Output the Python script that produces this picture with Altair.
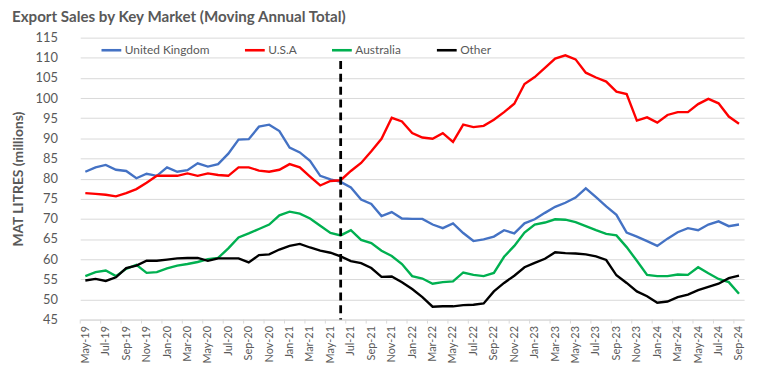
import altair as alt
import pandas as pd

# ---- data -------------------------------------------------------------
month_names = ["Jan", "Feb", "Mar", "Apr", "May", "Jun",
               "Jul", "Aug", "Sep", "Oct", "Nov", "Dec"]
months = []
for yr in range(2019, 2025):
    for mi, mn in enumerate(month_names):
        if (yr == 2019 and mi < 4) or (yr == 2024 and mi > 8):
            continue
        months.append(f"{mn}-{str(yr)[2:]}")

uk = [81.7, 82.8, 83.4, 82.2, 81.9, 80.1, 81.2, 80.7, 82.8, 81.7,
      82.1, 83.8, 83.0, 83.6, 86.2, 89.7, 89.8, 92.9, 93.4, 91.8,
      87.7, 86.5, 84.4, 80.7, 79.8, 79.2, 77.8, 74.8, 73.7, 70.7,
      71.7, 70.1, 70.0, 70.0, 68.6, 67.7, 68.9, 66.5, 64.5, 64.9,
      65.6, 67.2, 66.4, 68.9, 69.9, 71.5, 73.0, 74.0, 75.3, 77.6,
      75.4, 73.1, 71.0, 66.6, 65.6, 64.5, 63.3, 65.1, 66.7, 67.7,
      67.2, 68.6, 69.4, 68.2, 68.6]

usa = [76.4, 76.2, 76.0, 75.6, 76.4, 77.4, 79.0, 80.7, 80.7, 80.7,
       81.3, 80.7, 81.3, 80.9, 80.7, 82.8, 82.8, 82.0, 81.7, 82.2,
       83.6, 82.8, 80.5, 78.3, 79.4, 79.6, 81.9, 83.9, 86.8, 89.9,
       95.1, 94.2, 91.3, 90.2, 89.9, 91.3, 89.1, 93.4, 92.8, 93.1,
       94.6, 96.5, 98.6, 103.5, 105.2, 107.5, 109.8, 110.6, 109.6, 106.3,
       105.1, 104.1, 101.6, 101.0, 94.4, 95.2, 93.9, 95.8, 96.5, 96.5,
       98.5, 99.8, 98.7, 95.4, 93.6]

australia = [55.8, 56.8, 57.2, 55.8, 57.6, 58.6, 56.6, 56.8, 57.7, 58.4,
             58.8, 59.3, 60.0, 60.3, 62.7, 65.4, 66.4, 67.5, 68.6, 70.9,
             71.8, 71.3, 70.1, 68.3, 66.5, 65.9, 67.2, 64.8, 64.0, 62.1,
             60.8, 58.8, 55.8, 55.2, 53.9, 54.3, 54.5, 56.7, 56.1, 55.8,
             56.6, 60.6, 63.3, 66.6, 68.6, 69.1, 69.9, 69.8, 69.2, 68.2,
             67.2, 66.3, 65.9, 63.0, 59.6, 56.1, 55.8, 55.8, 56.2, 56.1,
             58.0, 56.5, 55.1, 54.3, 51.4]

other = [54.7, 55.1, 54.6, 55.5, 57.8, 58.4, 59.6, 59.6, 59.9, 60.2,
         60.3, 60.3, 59.6, 60.2, 60.2, 60.2, 59.2, 61.0, 61.2, 62.4,
         63.3, 63.8, 62.9, 62.1, 61.6, 60.7, 59.5, 59.0, 57.8, 55.6,
         55.7, 54.3, 52.6, 50.6, 48.2, 48.3, 48.3, 48.6, 48.7, 49.0,
         52.0, 54.1, 55.9, 58.0, 59.1, 60.1, 61.7, 61.5, 61.4, 61.2,
         60.7, 59.8, 56.0, 54.1, 52.0, 50.8, 49.2, 49.5, 50.6, 51.2,
         52.3, 53.1, 53.9, 55.3, 55.9]

series_names = ["United Kingdom", "U.S.A", "Australia", "Other"]
series_colors = ["#4472C4", "#FF0000", "#00B050", "#000000"]
series_values = [uk, usa, australia, other]

y_ticks = [45, 50, 55, 60, 65, 70, 75, 80, 85, 90, 95, 100, 105, 110, 115]
marker_month = "Jun-21"
marker_top = 109.2

# ---- tables -----------------------------------------------------------
rows = []
for name, vals in zip(series_names, series_values):
    for i, (m, v) in enumerate(zip(months, vals)):
        rows.append({"idx": i, "month": m, "series": name, "value": v})
df = pd.DataFrame(rows)

label_idx = list(range(0, len(months), 2))
tick_df = pd.DataFrame({"pos": [i - 0.5 for i in label_idx]})
marker_df = pd.DataFrame({"idx": [months.index(marker_month)],
                          "top": [marker_top], "bottom": [y_ticks[0]]})

W, H = 671, 285
FONT = "Lato"
GREY = "#595959"

x_scale = alt.Scale(domain=[-0.5, len(months) - 0.5], nice=False, zero=False)
y_scale = alt.Scale(domain=[y_ticks[0], y_ticks[-1]], nice=False, zero=False)

label_expr = "[" + ",".join(f"'{m}'" for m in months) + "][datum.value]"

x_axis = alt.Axis(values=label_idx, labelExpr=label_expr, labelAngle=270,
                  ticks=False, tickSize=0, grid=False, domainColor="#D9D9D9",
                  labelColor=GREY, labelFontSize=11, labelFont=FONT,
                  labelPadding=6, labelOverlap=False, labelFlush=False,
                  labelBound=False, title=None)
y_axis = alt.Axis(values=y_ticks, grid=True, gridColor="#D9D9D9",
                  domain=False, ticks=False, tickSize=0,
                  labelColor=GREY, labelFontSize=13, labelFont=FONT,
                  labelPadding=23, labelOverlap=False, labelFlush=False,
                  title="MAT LITRES (millions)",
                  titleFont=FONT, titleFontSize=14, titleFontWeight="bold",
                  titleColor=GREY, titleAngle=270, titleX=-62, titleY=H / 2,
                  titleBaseline="middle", titleAlign="center")

ticks = alt.Chart(tick_df).mark_rule(color="#D9D9D9", strokeWidth=1).encode(
    x=alt.X("pos:Q", scale=x_scale, axis=x_axis),
    y=alt.value(H),
    y2=alt.value(H + 4),
)

lines = alt.Chart(df).mark_line(strokeWidth=2.4).encode(
    x=alt.X("idx:Q", scale=x_scale, axis=x_axis),
    y=alt.Y("value:Q", scale=y_scale, axis=y_axis),
    color=alt.Color("series:N",
                    scale=alt.Scale(domain=series_names, range=series_colors),
                    legend=alt.Legend(orient="none", legendX=20, legendY=1,
                                      direction="horizontal", title=None,
                                      symbolType="stroke", symbolSize=400,
                                      symbolStrokeWidth=2.6,
                                      labelFont=FONT, labelFontSize=12,
                                      labelColor=GREY, labelOffset=2,
                                      columnPadding=30)),
)

dashed = alt.Chart(marker_df).mark_rule(color="black", strokeWidth=2.8,
                                         strokeDash=[8, 5]).encode(
    x=alt.X("idx:Q", scale=x_scale, axis=x_axis),
    y=alt.Y("top:Q", scale=y_scale, axis=y_axis),
    y2="bottom:Q",
)

chart = alt.layer(ticks, lines, dashed).properties(
    width=W, height=H,
    title=alt.TitleParams("Export Sales by Key Market (Moving Annual Total)",
                          anchor="start", frame="bounds", dx=0, offset=6,
                          font=FONT, fontSize=15.3, fontWeight="bold",
                          color=GREY),
    padding={"left": 73, "top": 28, "right": 9, "bottom": 50},
    autosize=alt.AutoSizeParams(type="none"),
    background="white",
).configure_view(stroke=None).configure_axisX(
    labelOverlap=False
).configure_axisY(labelOverlap=False)

chart.save("out.html", embed_options={"renderer": "svg", "actions": False})
